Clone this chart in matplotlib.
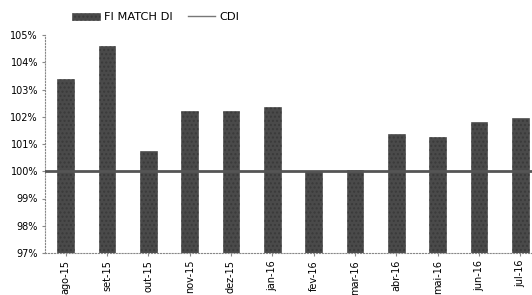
import matplotlib
matplotlib.use("Agg")
import matplotlib.pyplot as plt
import numpy as np
from matplotlib.lines import Line2D

categories = ["ago-15", "set-15", "out-15", "nov-15", "dez-15", "jan-16",
              "fev-16", "mar-16", "abr-16", "mai-16", "jun-16", "jul-16"]
fi_match_di = [103.4, 104.6, 100.75, 102.2, 102.2, 102.35,
               100.0, 100.05, 101.35, 101.27, 101.8, 101.95]
cdi = [100.0] * len(categories)
y_ticks = [97, 98, 99, 100, 101, 102, 103, 104, 105]

W, H = 532, 295
fig = plt.figure(figsize=(W / 100, H / 100), dpi=100)
left, right, top, bottom = 45, 541, 35, 253
ax = fig.add_axes([left / W, 1 - bottom / H, (right - left) / W, (bottom - top) / H])

plt.rcParams["hatch.color"] = "#8a8a8a"
x = np.arange(len(categories))
bars = ax.bar(x, fi_match_di, width=0.41, color="#4a4a4a", edgecolor="#3a3a3a",
              linewidth=0.4, hatch="....", label="FI MATCH DI", zorder=2)
xe = np.r_[x[0] - 0.5, x, x[-1] + 0.5]
ce = np.r_[cdi[0], cdi, cdi[-1]]
line, = ax.plot(xe, ce, color="#555555", linewidth=2.0, label="CDI", zorder=3)

ax.set_xlim(-0.5, len(categories) - 0.5)
ax.set_ylim(97, 105)
ax.set_yticks(y_ticks)
ax.set_yticklabels([f"{v}%" for v in y_ticks], fontsize=7)
ax.set_xticks(x)
ax.set_xticklabels(categories, rotation=90, fontsize=7)
ax.tick_params(axis="both", length=2, color="#888888", pad=3)

for s in ["top", "right"]:
    ax.spines[s].set_visible(False)
for s in ["left", "bottom"]:
    ax.spines[s].set_color("#888888")
    ax.spines[s].set_linestyle(":")
    ax.spines[s].set_linewidth(0.8)

cdi_handle = Line2D([], [], color="#777777", linewidth=1.0)
fig.legend([bars, cdi_handle], ["FI MATCH DI", "CDI"], loc="upper left",
           bbox_to_anchor=(62 / W, 1 - 2 / H), ncol=2,
           frameon=False, fontsize=8.2, handlelength=2.4, handleheight=0.6,
           columnspacing=1.3, handletextpad=0.4)

fig.savefig("out.png", dpi=100)
